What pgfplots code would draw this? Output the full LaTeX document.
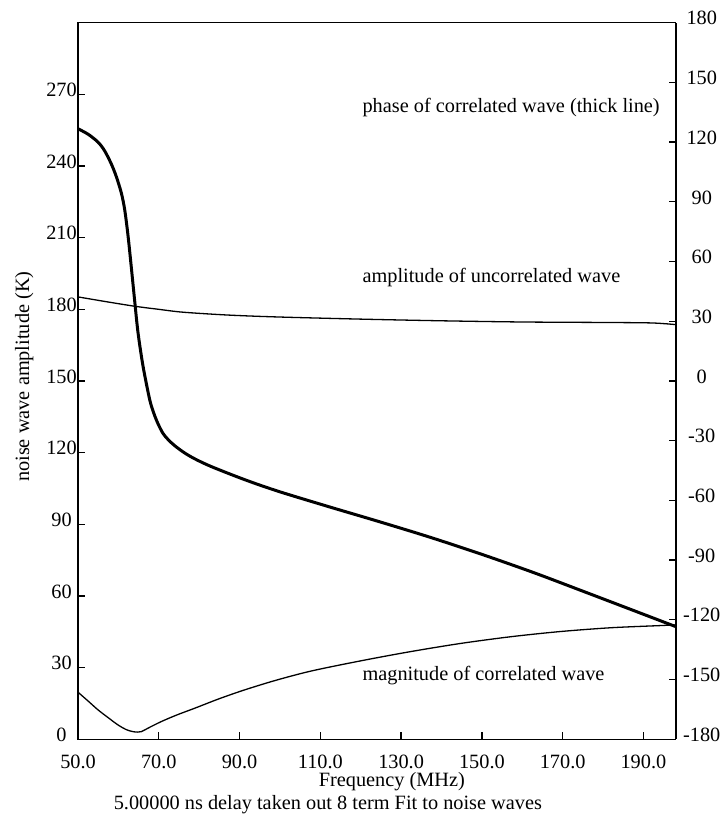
\documentclass[border=0pt]{standalone}
\usepackage{pgfplots}
\pgfplotsset{compat=1.18}
\usepackage{fontspec}
\setmainfont{Liberation Serif}
\begin{document}
\begin{tikzpicture}[font=\fontsize{20.3}{24}\selectfont]
\begin{axis}[
  at={(0,0)}, anchor=south west,
  scale only axis, width=597.5pt, height=716.3pt,
  xmin=50, xmax=198, ymin=0, ymax=300,
  axis line style={line width=1.5pt},
  tick align=inside, major tick length=7pt,
  every tick/.style={black, line width=1.3pt},
  xtick={50,70,...,190},
  xticklabels={50.0,70.0,90.0,110.0,130.0,150.0,170.0,190.0},
  xtick pos=bottom, ytick pos=left,
  ytick={0,30,...,270},
  yticklabels={0,30,60,90,120,150,180,210,240,270},
  xticklabel style={anchor=base, inner sep=0pt, yshift=-29pt},
  yticklabel style={anchor=center, inner sep=0pt, xshift=-16.5pt, yshift=4.5pt},
  xlabel={Frequency (MHz)},
  xlabel style={at={(axis description cs:0.525,-0.0665)}, anchor=base, inner sep=0pt},
  ylabel={noise wave amplitude (K)},
  ylabel style={at={(axis description cs:-0.082,0.506)}, anchor=base, inner sep=0pt},
  clip=false,
]
% amplitude of uncorrelated wave
\addplot[black, line width=1.3pt, smooth] coordinates {
 (50,185.2) (57,183.2) (64,181.3) (70,180.0) (76,178.8) (87.2,177.6)
 (99.5,176.8) (120,175.9) (140,175.2) (160,174.7) (180,174.5) (192,174.3) (198,173.6)
};
% magnitude of correlated wave
\addplot[black, line width=1.3pt, smooth] coordinates {
 (50,19.7) (52.5,16.0) (54.96,12.3) (57.5,9.0) (59.9,6.0) (62,4.0) (63.6,3.2)
 (64.7,3.0) (65.7,3.2) (67.5,4.8) (70.6,7.4) (74.5,10.2) (78.9,13.0) (85,17.0)
 (91.3,20.7) (99,24.7) (107.8,28.6) (119.9,32.8) (132,36.6) (144.65,40.1)
 (157,42.9) (169.4,45.1) (182,46.7) (194.2,47.6) (198,47.9)
};
\node[anchor=base west, inner sep=0pt] at (axis cs:120.4,262.4) {phase of correlated wave (thick line)};
\node[anchor=base west, inner sep=0pt] at (axis cs:120.4,191.2) {amplitude of uncorrelated wave};
\node[anchor=base west, inner sep=0pt] at (axis cs:120.4,24.8) {magnitude of correlated wave};
\node[anchor=base, inner sep=0pt] at (axis description cs:0.418,-0.0985) {5.00000 ns delay taken out 8 term Fit to noise waves};
\end{axis}
\begin{axis}[
  at={(0,0)}, anchor=south west,
  scale only axis, width=597.5pt, height=716.3pt,
  xmin=50, xmax=198, ymin=-180, ymax=180,
  axis x line=none, axis y line*=right,
  axis line style={line width=1.5pt},
  tick align=inside, major tick length=7pt,
  every tick/.style={black, line width=1.3pt},
  ytick={-180,-150,...,180},
  yticklabels={-180,-150,-120,-90,-60,-30,0,30,60,90,120,150,180},
  yticklabel style={anchor=center, inner sep=0pt, xshift=26pt, yshift=4.5pt},
]
% phase of correlated wave (thick line)
\addplot[black, line width=3pt, smooth] coordinates {
 (50,126.7) (52.48,124.0) (54.95,120.0) (56.6,115.6) (58.25,109.0) (59.49,102.6)
 (60.73,94.4) (61.56,86.0) (62.38,73.0) (63.21,56.8) (64.03,40.2) (64.86,24.2)
 (66.1,7.4) (67.75,-9.4) (68.8,-16.4) (69.81,-21.5) (71,-26.2) (72.29,-29.4)
 (74,-32.6) (76.43,-36.2) (79,-39.2) (83,-43.0) (91.3,-49.6) (99.55,-55.4)
 (112,-63.1) (124.3,-70.5) (137,-78.4) (150,-87.1) (163,-96.4) (175,-105.6)
 (186,-114.1) (198,-123.4)
};
\end{axis}
\pgfresetboundingbox
\path[use as bounding box] (-78pt,-78.7pt) rectangle (642pt,739pt);
\end{tikzpicture}
\end{document}
